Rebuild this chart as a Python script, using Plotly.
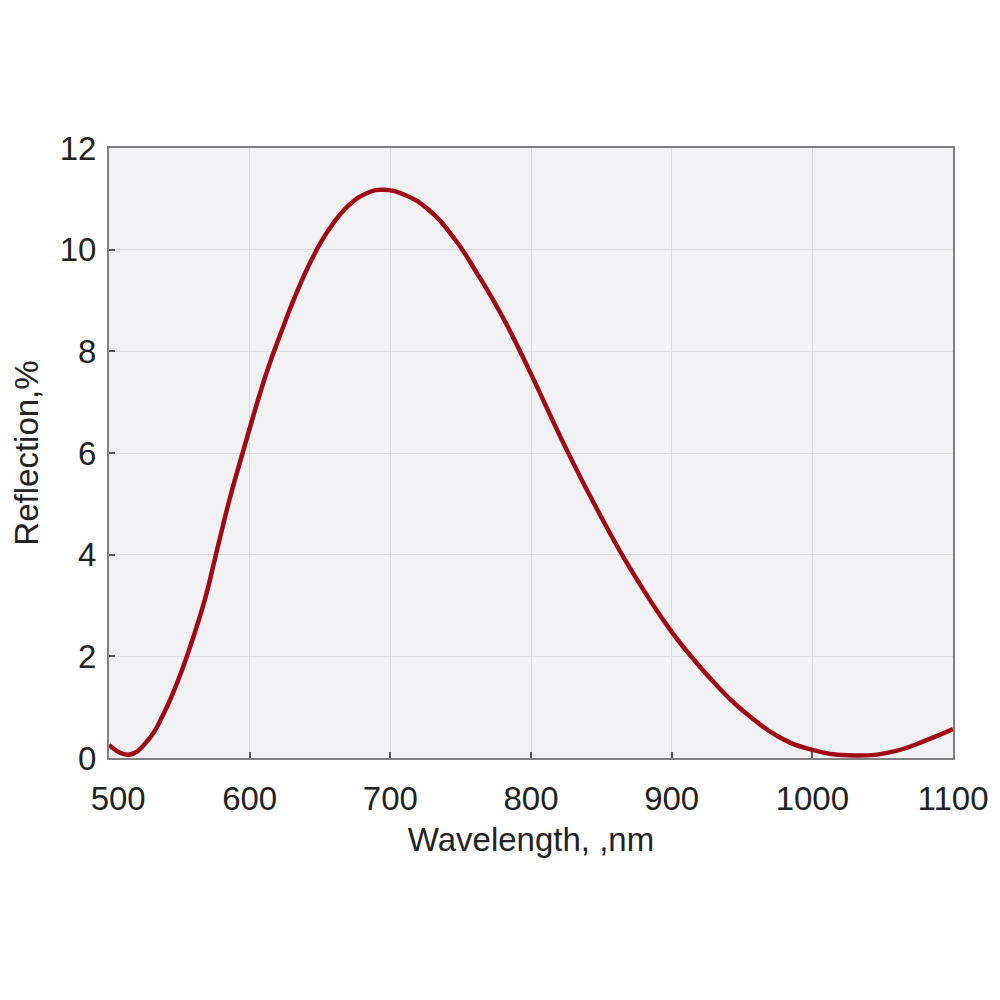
import plotly.graph_objects as go

# values
wavelength = [500, 514, 528, 539, 549, 556, 568, 576, 586, 595, 612, 623, 632,
              644, 656, 670, 684, 695, 710, 727, 746, 762, 779, 798, 824, 848,
              872, 900, 919, 929, 940, 952, 976, 1000, 1030, 1058, 1082, 1100]
reflection = [0.26, 0.065, 0.36, 0.88, 1.52, 2.05, 3.1, 4.0, 5.12, 6.0, 7.58,
              8.42, 9.06, 9.8, 10.38, 10.86, 11.12, 11.18, 11.08, 10.79, 10.2,
              9.52, 8.72, 7.67, 6.14, 4.84, 3.66, 2.48, 1.83, 1.52, 1.2, 0.9,
              0.42, 0.16, 0.05, 0.13, 0.36, 0.57]

x_ticks = [500, 600, 700, 800, 900, 1000, 1100]
# first label sits a little inside the frame in the original
x_labels = ['\u00a0\u00a0500', '600', '700', '800', '900', '1000', '1100']
y_ticks = [0, 2, 4, 6, 8, 10, 12]

font = 'Liberation Sans, Arial, sans-serif'
txt = dict(family=font, size=33, color='#222222')

fig = go.Figure()
fig.add_trace(go.Scatter(
    x=wavelength,
    y=reflection,
    mode='lines',
    line={'color': '#a10a14', 'width': 4.5, 'shape': 'spline', 'smoothing': 1.3},
    showlegend=False))

axis_style = dict(
    showline=True, mirror=True, linecolor='#808080', linewidth=2,
    showgrid=True, gridcolor='#dcdce0', gridwidth=1,
    ticks='inside', ticklen=6, tickcolor='#555555', tickwidth=1.5,
    zeroline=False, tickfont=txt)

# page body adds an 8px margin, so the figure is 992 to fill the window
fig.update_layout(
    width=992, height=992,
    margin=dict(l=101, r=43, t=140, b=242),
    paper_bgcolor='white',
    plot_bgcolor='#f2f2f4',
    xaxis=dict(range=[500, 1100], tickvals=x_ticks, ticktext=x_labels,
               ticklabelstandoff=10, ticklabeloverflow='allow',
               title=dict(text='Wavelength, ,nm', standoff=12, font=txt),
               **axis_style),
    yaxis=dict(range=[0, 12], tickvals=y_ticks, ticklabelstandoff=4,
               title=dict(text='Reflection,%', standoff=16, font=txt),
               **axis_style))

fig.write_html("out.html")
